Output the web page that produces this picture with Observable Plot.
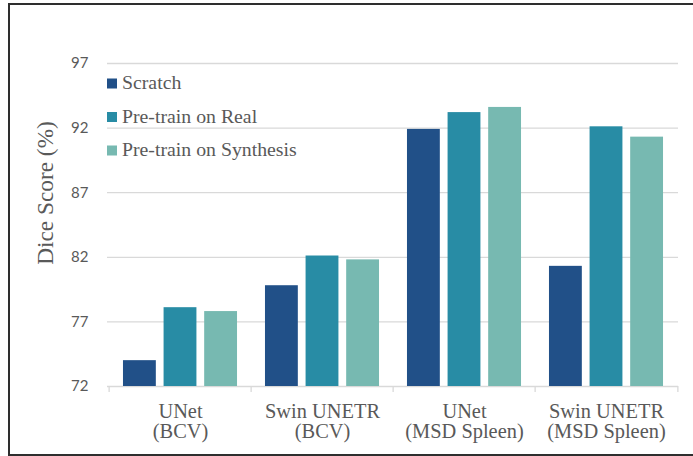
<!DOCTYPE html>
<html>
<head>
<meta charset="utf-8">
<script src="https://cdn.jsdelivr.net/npm/d3@7"></script>
<script src="https://cdn.jsdelivr.net/npm/@observablehq/plot@0.6"></script>
<style>
  html, body { margin: 0; padding: 0; background: #fff; overflow: hidden; }
  #wrap { position: relative; width: 693px; height: 456px; }
  #border { position: absolute; left: 8px; top: 3px; width: 685px; height: 449px;
    border-top: 2px solid #2e2e2e; border-left: 2px solid #2e2e2e; border-bottom: 2px solid #2e2e2e;
    border-right: none; pointer-events: none; box-sizing: content-box; }
</style>
</head>
<body>
<div id="wrap"><div id="border"></div></div>
<script>
// ---- data ----
const groups = ["UNet\n(BCV)", "Swin UNETR\n(BCV)", "UNet\n(MSD Spleen)", "Swin UNETR\n(MSD Spleen)"];
const seriesNames = ["Scratch", "Pre-train on Real", "Pre-train on Synthesis"];
const scratch = [74.0, 79.8, 91.9, 81.3];
const real = [78.1, 82.1, 93.2, 92.1];
const synthesis = [77.8, 81.8, 93.6, 91.3];
const yTicks = [72, 77, 82, 87, 92, 97];
const yLabel = "Dice Score (%)";

const colors = ["#215088", "#288ca5", "#77b9b1"];
const seriesValues = [scratch, real, synthesis];

const W = 693, H = 456;
const mL = 107, mR = 15, mT = 63, mB = 70;
const band = (W - mL - mR) / groups.length;
const barW = 33.6, step = 40.6;
const serif = "'Liberation Serif', 'Times New Roman', serif";
const sans = "Lato, 'Liberation Sans', sans-serif";

const barMarks = seriesValues.map((vals, s) => {
  const center = band / 2 + (s - 1) * step;
  return Plot.barY(groups, {
    x: d => d,
    y1: 72,
    y2: (d, i) => vals[i],
    fill: colors[s],
    insetLeft: center - barW / 2,
    insetRight: band - (center + barW / 2)
  });
});

const plot = Plot.plot({
  width: W,
  height: H,
  marginLeft: mL,
  marginRight: mR,
  marginTop: mT,
  marginBottom: mB,
  style: { color: "#595959", background: "transparent", overflow: "visible" },
  x: { type: "band", domain: groups, padding: 0 },
  y: { domain: [72, 97] },
  marks: [
    Plot.ruleY(yTicks, { stroke: "#d9d9d9", strokeWidth: 1.3 }),
    Plot.ruleX(groups, { x: d => d, dx: -band / 2, stroke: "#d9d9d9", strokeWidth: 1.3,
      insetTop: H - mT - mB, insetBottom: -6 }),
    Plot.ruleX([groups[groups.length - 1]], { x: d => d, dx: band / 2, stroke: "#d9d9d9", strokeWidth: 1.3,
      insetTop: H - mT - mB, insetBottom: -6 }),
    ...barMarks,
    Plot.axisY({ ticks: yTicks, tickSize: 0, tickPadding: 19, fontFamily: sans, fontSize: 15,
      fill: "#595959", label: null }),
    Plot.axisX({ tickSize: 0, tickPadding: 17.5, fontFamily: serif, fontSize: 20.4, lineHeight: 0.98,
      fill: "#595959", label: null }),
    Plot.text([yLabel], { text: d => d, frameAnchor: "left", dx: -62, dy: -32, rotate: -90,
      fontFamily: serif, fontSize: 23.3, fill: "#595959", textAnchor: "middle", lineAnchor: "middle" })
  ]
});

document.getElementById("wrap").prepend(plot);

// legend (inside plot area, top-left)
const svg = d3.select(plot);
const lg = svg.append("g").attr("transform", `translate(${mL},0)`);
const rowBase = [89, 122.5, 156];
seriesNames.forEach((name, i) => {
  lg.append("rect").attr("x", 0).attr("y", rowBase[i] - 10.5).attr("width", 10).attr("height", 10)
    .attr("fill", colors[i]);
  lg.append("text").attr("x", 15).attr("y", rowBase[i]).text(name)
    .attr("text-anchor", "start")
    .attr("font-family", serif).attr("font-size", 19.8).attr("fill", "#595959");
});
</script>
</body>
</html>
